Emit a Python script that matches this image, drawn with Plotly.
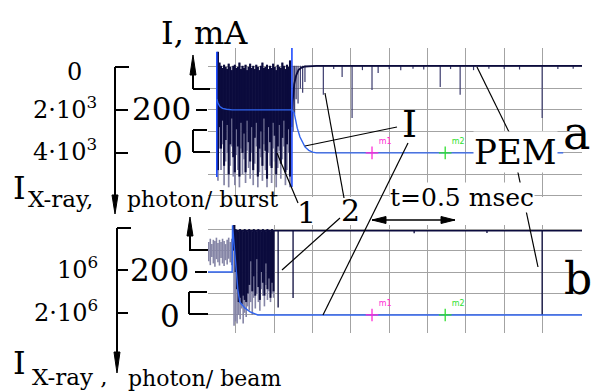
import numpy as np
import plotly.graph_objects as go

# ---------------- data (divisions on x, mA on y) ----------------
# panel a : oscilloscope columns of the burst (max / min per time column)
a_max = [470, 420, 405, 395, 410, 400, 390, 415, 400, 385, 405, 410, 395, 400, 420, 390,
         405, 395, 410, 385, 400, 415, 395, 405, 390, 410, 400, 385, 405, 420, 395, 400,
         410, 390, 405, 395, 415, 400, 385, 410, 400, 395, 420, 405, 390, 410, 400, 430]
a_min_navy = [-80, 120, 20, 150, -60, 60, 130, -100, 40, 160, -20, -90, 110, 30, -110, 140,
              0, 90, -90, 150, 50, -40, 120, -80, 70, 140, -110, 20, 100, -60, 160, 10,
              -120, 120, 50, -70, 140, 80, -100, 30, 130, -50, 70, 150, -90, 40, 110, -110]
a_min_lav = [-130, 20, -80, 40, -150, -40, 0, -160, -60, 30, -110, -150, -10, -80, -160, 20,
             -100, -30, -140, 10, -70, -120, 0, -150, -50, 30, -160, -90, -20, -130, 40, -80,
             -160, 0, -60, -140, 20, -40, -160, -70, 10, -120, -30, 30, -150, -80, 0, -160]
a_rise_x = [2.45, 2.48, 2.52, 2.57, 2.63, 2.70, 2.80, 2.95, 3.10, 10.03]
a_rise_y = [120, 240, 320, 360, 385, 396, 402, 405, 405, 405]
a_spike_x = [2.49, 2.53, 2.57, 2.62, 2.68, 2.74, 2.80, 3.28, 3.55, 3.77, 4.03, 4.30, 4.55, 4.71,
             5.00, 5.30, 5.62, 5.90, 6.33, 6.60, 6.85, 7.20, 7.60, 8.00, 8.40, 8.99, 9.40, 9.80]
a_spike_y = [100, 180, 250, 230, 300, 280, 330, 270, 390, 353, 163, 385, 293, 372,
             390, 385, 392, 388, 307, 390, 270, 385, 392, 390, 388, 163, 390, 392]
a_trig_x = [0.50, 2.46]
a_trig_lo = [-112, -158]
a_trig_hi = [470, 488]
a_cur_x = [0.50, 0.53, 0.58, 0.65, 0.75, 0.90, 1.20, 2.46, 2.52, 2.56, 2.60, 2.67, 2.74, 2.80,
           2.90, 3.00, 3.10, 9.54]
a_cur_y = [250, 232, 216, 207, 203, 200, 200, 200, 185, 150, 115, 74, 45, 28, 12, 4, 0, 0]

# panel b
b_pre_max = [340, 355, 330, 350, 345, 360, 335, 350, 340, 355, 345, 330, 350, 360, 340, 355]
b_pre_min = [250, 232, 270, 240, 225, 260, 245, 230, 265, 240, 228, 255, 235, 262, 245, 232]
b_max = [420, 400, 395, 390, 400, 395, 390, 400, 395, 390, 400, 395, 390, 400,
         395, 390, 400, 395, 390, 400, 395, 390, 400, 395, 390, 400, 395]
b_min_navy = [300, 200, 120, 60, 80, 50, 90, 70, 60, 100, 140, 250, 110, 180,
              90, 260, 130, 70, 200, 150, 90, 240, 120, 170, 80, 150, 110]
b_min_lav = [-50, -30, -40, 0, -20, 30, -40, 10, -10, 40, 20, 60, 0, 80,
             30, 100, 60, 20, 120, 90, 40, 140, 70, 110, 60, 100, 80]
b_flat_x = [0.95, 10.03]
b_flat_y = [392, 392]
b_spike_x = [2.10, 2.49, 5.65, 7.55, 8.99]
b_spike_y = [35, 79, 380, 382, 0]
b_cur_x = [0.27, 0.90, 0.91, 0.92, 1.00, 1.05, 1.10, 1.23, 1.37, 1.57, 10.03]
b_cur_y = [200, 200, 418, 395, 256, 116, 60, 33, 14, 0, 0]

marker_x = [4.55, 6.46]
marker_lbl = ["m1", "m2"]
marker_col = ["#ff2bd6", "#2fe02f"]

NAVY = "#0b0b3d"
LAV = "#8585a6"
SPK = "#3c3c6e"
BLUE = "#3064ee"

a_cols = np.linspace(0.53, 2.41, len(a_max))
b_pre_cols = np.linspace(0.29, 0.89, len(b_pre_max))
b_cols = np.linspace(0.95, 1.98, len(b_max))


def columns(xs, lo, hi):
    X, Y = [], []
    for x, a, b in zip(xs, lo, hi):
        X += [x, x, None]
        Y += [a, b, None]
    return X, Y


def line(x, y, color, width, xa="x", ya="y"):
    return go.Scatter(x=x, y=y, mode="lines", line=dict(color=color, width=width),
                      xaxis=xa, yaxis=ya, hoverinfo="skip", showlegend=False)


def markers(xa, ya):
    return go.Scatter(x=marker_x, y=[0, 0], mode="markers+text", text=marker_lbl,
                      textposition="top right",
                      textfont=dict(size=8, color=marker_col, family="DejaVu Sans"),
                      marker=dict(symbol="cross-thin", size=9,
                                  line=dict(color=marker_col, width=1.3)),
                      xaxis=xa, yaxis=ya, showlegend=False, hoverinfo="skip")


fig = go.Figure()
# ---- panel a
X, Y = columns(a_cols, a_min_lav, a_max)
fig.add_trace(line(X, Y, LAV, 1.7))
X, Y = columns(a_cols, a_min_navy, a_max)
fig.add_trace(line(X, Y, NAVY, 2.1))
X, Y = columns(a_spike_x, a_spike_y, [405] * len(a_spike_x))
fig.add_trace(line(X, Y, SPK, 1.2))
fig.add_trace(line(a_rise_x, a_rise_y, NAVY, 1.8))
X, Y = columns(a_trig_x, a_trig_lo, a_trig_hi)
fig.add_trace(line(X, Y, "#1f4cff", 1.6))
fig.add_trace(line(a_cur_x, a_cur_y, BLUE, 1.4))
fig.add_trace(markers("x", "y"))
# ---- panel b
X, Y = columns(b_pre_cols, b_pre_min, b_pre_max)
fig.add_trace(line(X, Y, LAV, 1.6, "x2", "y2"))
X, Y = columns(b_cols, b_min_lav, b_max)
fig.add_trace(line(X, Y, LAV, 1.6, "x2", "y2"))
X, Y = columns(b_cols, b_min_navy, b_max)
fig.add_trace(line(X, Y, NAVY, 2.0, "x2", "y2"))
fig.add_trace(line(b_flat_x, b_flat_y, NAVY, 1.6, "x2", "y2"))
X, Y = columns(b_spike_x, b_spike_y, [392] * len(b_spike_x))
fig.add_trace(line(X, Y, NAVY, 1.3, "x2", "y2"))
fig.add_trace(line(b_cur_x, b_cur_y, BLUE, 1.4, "x2", "y2"))
fig.add_trace(markers("x2", "y2"))

W, H = 593, 391
def px(v): return v / W
def py(v): return 1 - v / H

GRID = "#a3a3a3"
xcommon = dict(range=[0.27, 10.03], tickvals=list(range(1, 10)), showgrid=True,
               gridcolor=GRID, gridwidth=1, showticklabels=False, zeroline=False,
               showline=False, ticks="", fixedrange=True,
               domain=[px(208), px(582)])
ycommon = dict(showgrid=True, gridcolor=GRID, gridwidth=1, showticklabels=False,
               zeroline=False, showline=False, ticks="", fixedrange=True)

shapes = []
def seg(x0, y0, x1, y1, w=1.2, c="black"):
    shapes.append(dict(type="line", xref="paper", yref="paper", x0=px(x0), y0=py(y0),
                       x1=px(x1), y1=py(y1), line=dict(color=c, width=w), layer="above"))

def head(pts):
    p = "M " + " L ".join(f"{px(a):.5f},{py(b):.5f}" for a, b in pts) + " Z"
    shapes.append(dict(type="path", xref="paper", yref="paper", path=p,
                       fillcolor="black", line=dict(color="black", width=1), layer="above"))

# outer (X-ray) axes
seg(115, 67, 115, 200, 2); seg(115, 67, 129, 67, 2); seg(115, 110, 128, 110, 2); seg(115, 153, 128, 153, 2)
seg(117, 228, 117, 360, 2); seg(117, 228, 131, 228, 2); seg(117, 270, 128, 270, 2); seg(117, 313, 128, 313, 2)
head([(112, 195), (118, 195), (115, 214)])
head([(114, 352), (120, 352), (117, 373)])
# inner (I, mA) axes
seg(193, 70, 193, 89, 2); seg(193, 89, 210, 89, 2); seg(196, 110, 207, 110, 2)
seg(193, 130, 193, 152, 2); seg(193, 130, 207, 130, 2); seg(193, 152, 210, 152, 2)
seg(190, 232, 190, 250, 2); seg(189, 250, 208, 250, 2); seg(195, 272, 207, 272, 2)
seg(189, 292, 189, 314, 2); seg(189, 292, 207, 292, 2); seg(189, 314, 208, 314, 2)
head([(190, 75), (196, 75), (193, 55)])
head([(187, 236), (193, 236), (190, 217)])
# t = 0.5 msec double arrow
seg(372, 220, 455, 220, 1.6)
head([(372, 220), (386, 216.5), (386, 223.5)])
head([(455, 220), (441, 216.5), (441, 223.5)])
# leader lines
seg(305, 146, 397, 127); seg(408, 143, 323, 315)
seg(277, 153, 298, 203); seg(325, 93, 344, 198); seg(340, 218, 282, 270)
seg(477, 67, 510, 134); seg(517, 168, 538, 267)

ann = []
SERIF = "DejaVu Serif"
def txt(s, x, y, size, xanchor="center", yanchor="middle", **kw):
    d = dict(text=s, x=px(x), y=py(y), xref="paper", yref="paper", showarrow=False,
             xanchor=xanchor, yanchor=yanchor, font=dict(family=SERIF, size=size, color="black"))
    d.update(kw)
    ann.append(d)

txt("I, mA", 204, 33, 32)
txt("0", 84, 72, 24, xanchor="right")
txt("2·10<sup>3</sup>", 99, 108, 24, xanchor="right")
txt("4·10<sup>3</sup>", 99, 150, 24, xanchor="right")
txt("10<sup>6</sup>", 100, 268, 24, xanchor="right")
txt("2·10<sup>6</sup>", 100, 311, 24, xanchor="right")
txt("200", 193, 109, 31, xanchor="right")
txt("0", 185, 153, 31, xanchor="right")
txt("200", 191, 270, 31, xanchor="right")
txt("0", 182, 316, 31, xanchor="right")
txt("I", 11, 188, 32, xanchor="left")
txt("X-ray,", 26, 199, 23, xanchor="left")
txt("photon/ burst", 125, 199, 22, xanchor="left")
txt("I", 11, 363, 32, xanchor="left")
txt("X-ray ,", 30, 377, 23, xanchor="left")
txt("photon/ beam", 126, 378, 22, xanchor="left")
txt("1", 306, 212, 30)
txt("2", 350, 211, 30)
txt("I", 409, 124, 38)
txt("PEM", 515, 152, 34, bgcolor="white", borderpad=0)
txt("a", 576, 133, 46)
txt("b", 578, 278, 44)
txt("t=0.5 msec", 462, 197, 25, bgcolor="white", borderpad=0)

fig.update_layout(
    width=W, height=H, margin=dict(l=0, r=0, t=0, b=0),
    paper_bgcolor="white", plot_bgcolor="white", showlegend=False,
    xaxis=dict(**xcommon, anchor="y"),
    yaxis=dict(**ycommon, domain=[py(197), py(48)], range=[-205, 488],
               tickvals=[-200, -100, 0, 100, 200, 300, 400], anchor="x"),
    xaxis2=dict(**xcommon, anchor="y2"),
    yaxis2=dict(**ycommon, domain=[py(333), py(225)], range=[-84, 419],
                tickvals=[0, 100, 200, 300, 400], anchor="x2"),
    shapes=shapes, annotations=ann,
)
fig.write_html("out.html", config={"displayModeBar": False},
               post_script="document.body.style.margin='0';document.body.style.overflow='hidden';")
